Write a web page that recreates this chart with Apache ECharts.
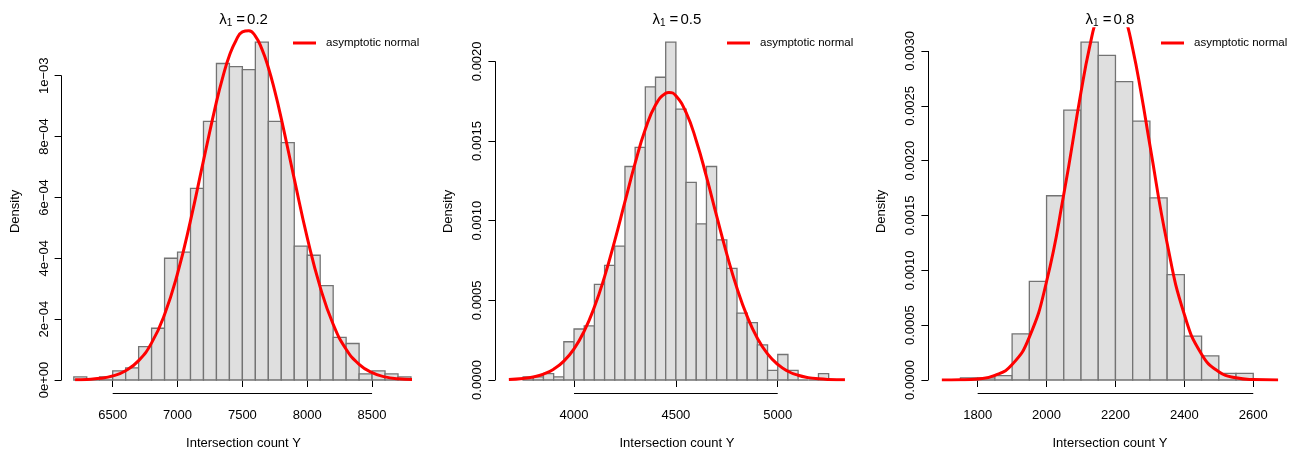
<!DOCTYPE html>
<html><head><meta charset="utf-8">
<script src="https://cdn.jsdelivr.net/npm/echarts@6/dist/echarts.min.js"></script>
<style>html,body{margin:0;padding:0;background:#fff}#chart{width:1294px;height:450px}</style>
</head><body><div id="chart"></div>
<script>
const FONT = '"Liberation Sans", Arial, Helvetica, sans-serif';

// ---- data ----
const lambdaValues = ['0.2', '0.5', '0.8'];
const legendLabel = 'asymptotic normal';
const xAxisName = 'Intersection count Y';
const yAxisName = 'Density';

// panel 1 (lambda = 0.2)
const breaks1 = [6200,6300,6400,6500,6600,6700,6800,6900,7000,7100,7200,7300,7400,7500,7600,7700,7800,7900,8000,8100,8200,8300,8400,8500,8600,8700,8800];
const density1 = [1e-5,0,1e-5,3e-5,4e-5,1.1e-4,1.7e-4,4.0e-4,4.2e-4,6.3e-4,8.5e-4,1.04e-3,1.03e-3,1.02e-3,1.11e-3,8.5e-4,7.8e-4,4.4e-4,4.1e-4,3.1e-4,1.4e-4,1.2e-4,2e-5,3e-5,2e-5,1e-5];
const curveX1 = [6210,6300,6400,6500,6600,6700,6800,6900,7000,7100,7200,7300,7350,7400,7450,7500,7550,7600,7650,7700,7750,7800,7900,8000,8100,8200,8300,8400,8500,8600,8700,8808];
const curveY1 = [7.9e-7,2.04e-6,5.47e-6,1.345e-5,3.05e-5,6.36e-5,1.22e-4,2.154e-4,3.50e-4,5.24e-4,7.21e-4,9.14e-4,9.97e-4,1.066e-3,1.115e-3,1.144e-3,1.148e-3,1.130e-3,1.088e-3,1.027e-3,9.49e-4,8.59e-4,6.61e-4,4.68e-4,3.05e-4,1.833e-4,1.012e-4,5.14e-5,2.40e-5,1.035e-5,4.1e-6,1.4e-6];
const xTicks1 = [6500,7000,7500,8000,8500];
const yTicks1 = [0,0.0002,0.0004,0.0006,0.0008,0.001];
const yTickLabels1 = ['0e+00','2e\u221204','4e\u221204','6e\u221204','8e\u221204','1e\u221203'];

// panel 2 (lambda = 0.5)
const breaks2 = [3750,3800,3850,3900,3950,4000,4050,4100,4150,4200,4250,4300,4350,4400,4450,4500,4550,4600,4650,4700,4750,4800,4850,4900,4950,5000,5050,5100,5150,5200,5250];
const density2 = [2e-5,2e-5,4e-5,2e-5,2.4e-4,3.2e-4,3.4e-4,6.0e-4,7.2e-4,8.4e-4,1.34e-3,1.46e-3,1.84e-3,1.90e-3,2.12e-3,1.70e-3,1.24e-3,9.8e-4,1.34e-3,8.8e-4,7.0e-4,4.2e-4,3.6e-4,2.2e-4,6e-5,1.6e-4,6e-5,0,0,4e-5];
const curveX2 = [3680,3750,3800,3850,3900,3950,4000,4050,4100,4150,4200,4250,4300,4350,4400,4450,4466,4500,4550,4600,4650,4700,4750,4800,4850,4900,4950,5000,5050,5100,5150,5200,5250,5330];
const curveY2 = [3.2e-6,9.5e-6,1.92e-5,3.71e-5,6.79e-5,1.182e-4,1.955e-4,3.07e-4,4.58e-4,6.49e-4,8.75e-4,1.119e-3,1.361e-3,1.573e-3,1.726e-3,1.800e-3,1.805e-3,1.784e-3,1.679e-3,1.502e-3,1.276e-3,1.030e-3,7.90e-4,5.76e-4,3.99e-4,2.624e-4,1.641e-4,9.74e-5,5.49e-5,2.95e-5,1.50e-5,7.3e-6,3.3e-6,1.0e-6];
const xTicks2 = [4000,4500,5000];
const yTicks2 = [0,0.0005,0.001,0.0015,0.002];
const yTickLabels2 = ['0.0000','0.0005','0.0010','0.0015','0.0020'];

// panel 3 (lambda = 0.8)
const breaks3 = [1750,1800,1850,1900,1950,2000,2050,2100,2150,2200,2250,2300,2350,2400,2450,2500,2550,2600];
const density3 = [2e-5,2e-5,4e-5,4.2e-4,9.0e-4,1.68e-3,2.46e-3,3.08e-3,2.96e-3,2.72e-3,2.36e-3,1.66e-3,9.6e-4,4.0e-4,2.2e-4,6e-5,6e-5];
const curveX3 = [1696,1750,1800,1850,1900,1950,2000,2050,2100,2125,2150,2175,2187,2200,2225,2250,2275,2300,2350,2400,2450,2500,2550,2600,2672];
const curveY3 = [3e-7,2.0e-6,1.0e-5,4.13e-5,1.403e-4,3.91e-4,8.98e-4,1.693e-3,2.625e-3,3.037e-3,3.346e-3,3.510e-3,3.53e-3,3.507e-3,3.336e-3,3.022e-3,2.607e-3,2.141e-3,1.247e-3,5.97e-4,2.354e-4,7.62e-5,2.03e-5,4.4e-6,3.5e-7];
const xTicks3 = [1800,2000,2200,2400,2600];
const yTicks3 = [0,0.0005,0.001,0.0015,0.002,0.0025,0.003];
const yTickLabels3 = ['0.0000','0.0005','0.0010','0.0015','0.0020','0.0025','0.0030'];

// ---- layout (pixels / axis extents) ----
const panels = [
  {breaks: breaks1, density: density1, cx: curveX1, cy: curveY1, xTicks: xTicks1, yTicks: yTicks1, yLabels: yTickLabels1,
   left: 61.6, width: 363.9, xMin: 6106, xMax: 8912, legendLeft: 293},
  {breaks: breaks2, density: density2, cx: curveX2, cy: curveY2, xTicks: xTicks2, yTicks: yTicks2, yLabels: yTickLabels2,
   left: 495.4, width: 363.0, xMin: 3614, xMax: 5396, legendLeft: 727},
  {breaks: breaks3, density: density3, cx: curveX3, cy: curveY3, xTicks: xTicks3, yTicks: yTicks3, yLabels: yTickLabels3,
   left: 928.4, width: 363.1, xMin: 1657, xMax: 2711, legendLeft: 1161}
];
const GRID_TOP = 28.7, GRID_H = 351.3, AXIS_OFFSET = 13.5;

const chart = echarts.init(document.getElementById('chart'), null, {renderer: 'canvas'});

const grid = [], xAxis = [], yAxis = [], series = [], title = [], legend = [];
panels.forEach((p, i) => {
  const yMax = Math.max.apply(null, p.density) * 1.04;
  grid.push({left: p.left, top: GRID_TOP, width: p.width, height: GRID_H, containLabel: false, outerBoundsMode: 'none'});
  xAxis.push({
    type: 'value', gridIndex: i, min: p.xMin, max: p.xMax, offset: AXIS_OFFSET,
    axisLine: {show: false}, splitLine: {show: false},
    axisTick: {show: true, length: 7, customValues: p.xTicks, lineStyle: {color: '#000', width: 1}},
    axisLabel: {customValues: p.xTicks, margin: 15, color: '#000', fontSize: 13, fontFamily: FONT,
                formatter: v => String(v)},
    name: xAxisName, nameLocation: 'middle', nameGap: 43,
    nameTextStyle: {color: '#000', fontSize: 13, fontFamily: FONT}
  });
  yAxis.push({
    type: 'value', gridIndex: i, min: 0, max: yMax,
    axisLine: {show: false}, splitLine: {show: false},
    axisTick: {show: true, length: 7, customValues: p.yTicks, lineStyle: {color: '#000', width: 1}},
    axisLabel: {customValues: p.yTicks, rotate: 90, margin: 11, color: '#000', fontSize: 13, fontFamily: FONT,
                formatter: v => { const k = p.yTicks.findIndex(t => Math.abs(t - v) < 1e-9); return k >= 0 ? p.yLabels[k] : ''; }},
    name: yAxisName, nameLocation: 'middle', nameGap: 40,
    nameTextStyle: {color: '#000', fontSize: 13, fontFamily: FONT, padding: [0, 14, 0, 0]}
  });
  const hist = p.density.map((d, k) => [p.breaks[k], p.breaks[k + 1], d]);
  series.push({
    type: 'custom', xAxisIndex: i, yAxisIndex: i, data: hist, z: 1,
    encode: {x: [0, 1], y: 2},
    renderItem: (params, api) => {
      const a = api.coord([api.value(0), api.value(2)]);
      const b = api.coord([api.value(1), 0]);
      return {type: 'rect', shape: {x: a[0], y: a[1], width: b[0] - a[0], height: b[1] - a[1]},
              style: {fill: '#dfdfdf', stroke: '#737373', lineWidth: 1.3}};
    }
  });
  series.push({
    type: 'line', name: legendLabel, xAxisIndex: i, yAxisIndex: i, z: 3,
    data: p.cx.map((x, k) => [x, p.cy[k]]),
    showSymbol: false, symbol: 'none', smooth: true, clip: true,
    color: '#ff0000', lineStyle: {color: '#ff0000', width: 3}
  });
  title.push({
    text: '{g|\u03bb}{s|1}{e|=}{g|' + lambdaValues[i] + '}',
    left: p.left + p.width / 2, textAlign: 'center', top: 12, padding: 0,
    textStyle: {fontWeight: 'normal', rich: {
      g: {fontSize: 15, fontFamily: FONT, color: '#000', fontWeight: 'normal'},
      e: {fontSize: 15, fontFamily: FONT, color: '#000', fontWeight: 'normal', padding: [0, 2, 0, 3]},
      s: {fontSize: 10, fontFamily: FONT, color: '#000', fontWeight: 'normal', verticalAlign: 'bottom', padding: [6, 1, 0, 0]}
    }}
  });
  legend.push({
    left: p.legendLeft, top: 37, icon: 'rect', itemWidth: 23, itemHeight: 3,
    selectedMode: false, data: [legendLabel], padding: 0,
    textStyle: {fontSize: 11.5, fontFamily: FONT, color: '#000', padding: [0, 0, 0, 5]}
  });
});

chart.setOption({animation: false, backgroundColor: '#fff', grid, xAxis, yAxis, series, title, legend});

const px = v => Math.round(v - 0.5) + 0.5;
const graphic = [];
panels.forEach((p, i) => {
  const y0 = chart.convertToPixel({gridIndex: i}, [p.xMin, 0]);
  const y1 = chart.convertToPixel({gridIndex: i}, [p.xMin, p.yTicks[p.yTicks.length - 1]]);
  graphic.push({type: 'line', shape: {x1: px(y0[0]), y1: y0[1], x2: px(y1[0]), y2: y1[1]},
                style: {stroke: '#000', lineWidth: 1}, silent: true, z: 10});
  const a = chart.convertToPixel({gridIndex: i}, [p.xTicks[0], 0]);
  const b = chart.convertToPixel({gridIndex: i}, [p.xTicks[p.xTicks.length - 1], 0]);
  const yy = px(a[1] + AXIS_OFFSET);
  graphic.push({type: 'line', shape: {x1: a[0], y1: yy, x2: b[0], y2: yy},
                style: {stroke: '#000', lineWidth: 1}, silent: true, z: 10});
});
chart.setOption({graphic});
</script>
</body></html>
